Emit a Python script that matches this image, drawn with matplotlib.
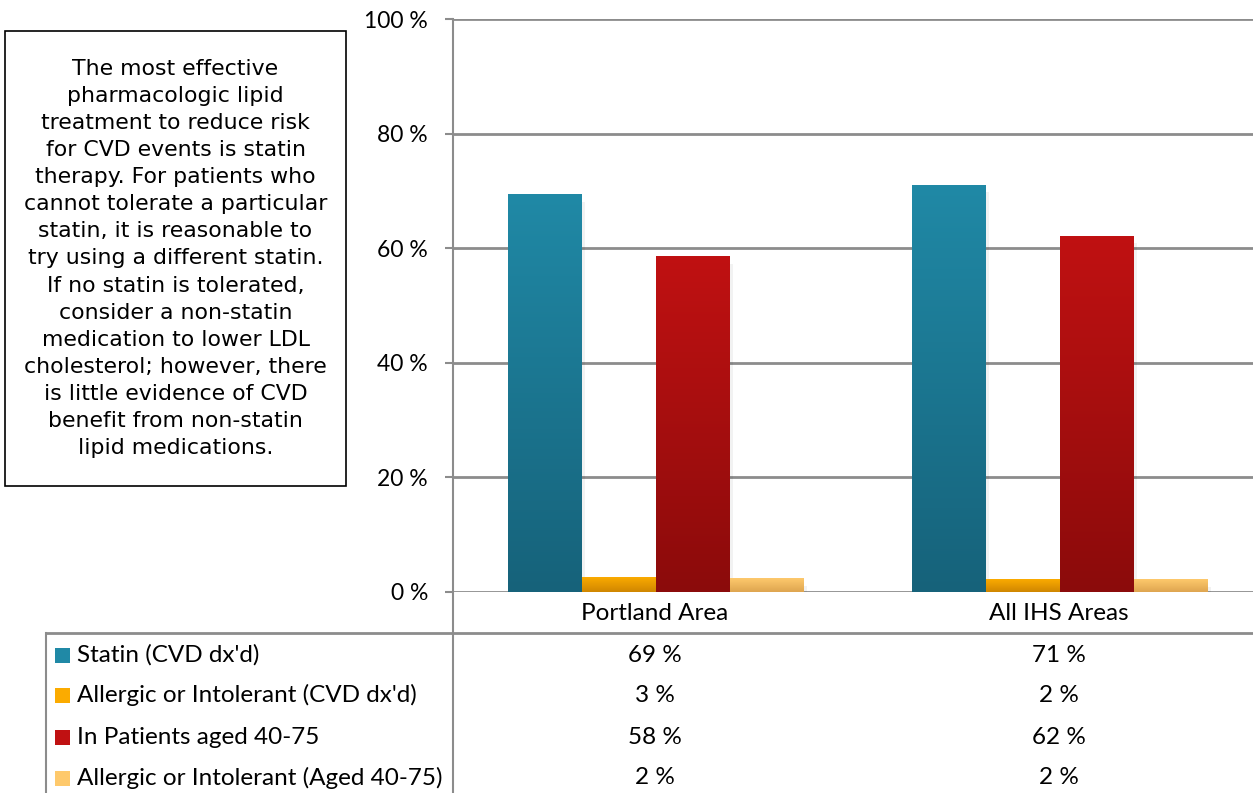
import numpy as np
import matplotlib.pyplot as plt
from matplotlib.colors import LinearSegmentedColormap
from matplotlib.patches import Rectangle
from matplotlib.lines import Line2D
from matplotlib.transforms import blended_transform_factory

# --- Data ---
categories = ['Portland Area', 'All IHS Areas']
series_names = ["Statin (CVD dx'd)", "Allergic or Intolerant (CVD dx'd)",
                'In Patients aged 40-75', 'Allergic or Intolerant (Aged 40-75)']
statin_cvd = [69.3, 71.0]
allergic_cvd = [2.6, 2.1]
patients_40_75 = [58.5, 62.1]
allergic_40_75 = [2.3, 2.1]
table_values = [['69 %', '71 %'],
                ['3 %', '2 %'],
                ['58 %', '62 %'],
                ['2 %', '2 %']]
y_ticks = [0, 20, 40, 60, 80, 100]
note = ("The most effective\npharmacologic lipid\ntreatment to reduce risk\n"
        "for CVD events is statin\ntherapy. For patients who\ncannot tolerate a particular\n"
        "statin, it is reasonable to\ntry using a different statin.\nIf no statin is tolerated,\n"
        "consider a non-statin\nmedication to lower LDL\ncholesterol; however, there\n"
        "is little evidence of CVD\nbenefit from non-statin\nlipid medications.")

series = [statin_cvd, allergic_cvd, patients_40_75, allergic_40_75]
# (bottom colour, top colour) for the gradient fills
grad_colors = [('#16627a', '#2089a6'),
               ('#cf8600', '#fbab00'),
               ('#8b0b0b', '#c01112'),
               ('#dea550', '#fec96c')]
grid_color = '#8c8c8c'

# --- Figure ---
W, H = 1253, 793
fig = plt.figure(figsize=(W / 100, H / 100), dpi=100)
plt.rcParams['font.family'] = ['Lato', 'DejaVu Sans']

def fx(px):
    return px / W

def fy(py):
    return 1 - py / H

# plot area runs a little past the right edge of the image
ax = fig.add_axes([fx(453), fy(592), fx(1261) - fx(453), fy(19) - fy(592)])
ax.set_xlim(-0.5, 1.5)
ax.set_ylim(0, 100)
for s in ax.spines.values():
    s.set_visible(False)

for t in y_ticks:
    ax.axhline(t, color=grid_color, lw=2, zorder=1)

ax.set_yticks(y_ticks)
ax.set_yticklabels([f'{t} %' for t in y_ticks])
ax.tick_params(axis='y', length=6, width=1.5, color=grid_color, labelsize=16.5, pad=12)
ax.set_xticks(range(len(categories)))
ax.set_xticklabels(categories)
ax.tick_params(axis='x', length=0, labelsize=17.5, pad=8)

bar_w = 0.183
offsets = (np.arange(len(series)) - 1.5) * bar_w + 0.003
gradient = np.linspace(0, 1, 256).reshape(-1, 1)
for k, vals in enumerate(series):
    cmap = LinearSegmentedColormap.from_list(f'g{k}', grad_colors[k])
    for i, v in enumerate(vals):
        x0 = i + offsets[k] - bar_w / 2
        ax.add_patch(Rectangle((x0 + 0.006, -1.2), bar_w, v, color='black',
                               alpha=0.05, lw=0, zorder=2))
        ax.imshow(gradient, cmap=cmap, origin='lower', aspect='auto',
                  extent=(x0, x0 + bar_w, 0, v), zorder=3)
ax.set_xlim(-0.5, 1.5)
ax.set_ylim(0, 100)

# --- Data table ---
fig.add_artist(Line2D([fx(453), fx(453)], [fy(19), 0], color=grid_color, lw=1.5))
fig.add_artist(Line2D([fx(46), 1], [fy(633), fy(633)], color=grid_color, lw=2))
fig.add_artist(Line2D([fx(46), fx(46)], [fy(633), 0], color=grid_color, lw=1.5))

trans = blended_transform_factory(ax.transData, fig.transFigure)
row_y = [655, 695, 737, 778]
for r, name in enumerate(series_names):
    y = fy(row_y[r])
    fig.add_artist(Rectangle((fx(55), y - 7.5 / H), 15 / W, 15 / H,
                             transform=fig.transFigure,
                             facecolor=grad_colors[r][1], edgecolor='none'))
    fig.text(fx(77), y, name, fontsize=17.5, va='center', ha='left')
    for i in range(len(categories)):
        ax.text(i, y, table_values[r][i], transform=trans, fontsize=17.5,
                va='center', ha='center', clip_on=False)

# --- Note box ---
fig.add_artist(Rectangle((fx(5), fy(486)), fx(346) - fx(5), fy(31) - fy(486),
                         transform=fig.transFigure, facecolor='white',
                         edgecolor='black', lw=1.2))
fig.text(fx(175.5), fy(258.5), note, fontsize=15.8, ha='center', va='center',
         linespacing=1.445, family='DejaVu Sans')

plt.savefig('out.png', dpi=100)
